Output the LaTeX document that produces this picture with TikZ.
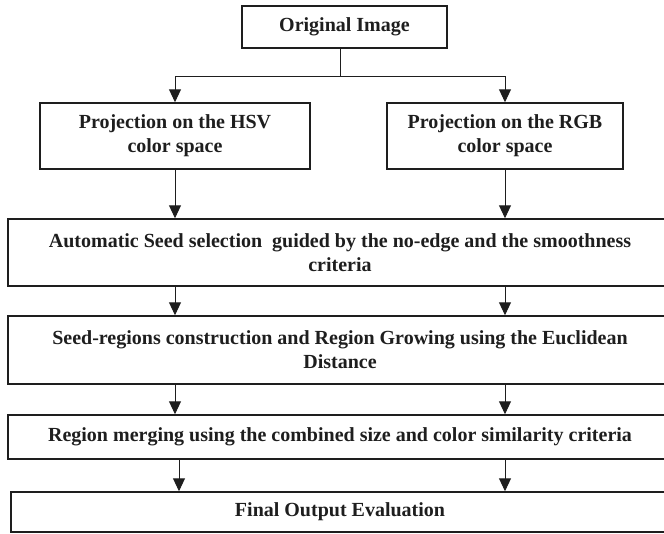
\documentclass[tikz,border=0pt]{standalone}
\usepackage{fontspec}
\setmainfont{Liberation Serif}
\usetikzlibrary{arrows.meta}
\definecolor{ink}{HTML}{1E1E1E}
\begin{document}
\begin{tikzpicture}[x=1pt,y=-1pt,
  box/.style={draw=ink,line width=1.5pt,inner sep=0pt,align=center,text=ink,
    font=\fontsize{20}{24}\selectfont\bfseries},
  arr/.style={draw=ink,line width=1pt,-{Triangle[length=13pt,width=12pt]}},
  ln/.style={draw=ink,line width=1pt}]
\useasboundingbox (0,0) rectangle (664,533);
\clip (0,0) rectangle (664,533);
\node[box,minimum width=205pt,minimum height=42pt] (orig) at (344.5,27) {Original Image};
\node[box,minimum width=270pt,minimum height=66pt] (hsv) at (175,136) {Projection on the HSV\\color space};
\node[box,minimum width=236pt,minimum height=66pt] (rgb) at (505,136) {Projection on the RGB\\color space};
\node[box,minimum width=664pt,minimum height=67pt] (auto) at (340,252.5) {Automatic Seed selection\ \ guided by the no-edge and the smoothness\\criteria};
\node[box,minimum width=664pt,minimum height=68pt] (seed) at (340,350) {Seed-regions construction and Region Growing using the Euclidean\\Distance};
\node[box,minimum width=664pt,minimum height=44pt] (merge) at (340,437) {Region merging using the combined size and color similarity criteria};
\node[box,minimum width=658pt,minimum height=40pt] (final) at (340,512) {Final Output Evaluation};
\coordinate (top) at ([xshift=-4.5pt]orig.south);
\coordinate (j) at (340,76);
\draw[ln] (top) -- (j);
\draw[arr] (j) -| (hsv.north);
\draw[arr] (j) -| (rgb.north);
\draw[arr] (hsv.south) -- (hsv.south |- auto.north);
\draw[arr] (rgb.south) -- (rgb.south |- auto.north);
\draw[arr] (auto.south -| hsv.south) -- (seed.north -| hsv.south);
\draw[arr] (auto.south -| rgb.south) -- (seed.north -| rgb.south);
\draw[arr] (seed.south -| hsv.south) -- (merge.north -| hsv.south);
\draw[arr] (seed.south -| rgb.south) -- (merge.north -| rgb.south);
\coordinate (fl) at ([xshift=4pt]hsv.south);
\draw[arr] (merge.south -| fl) -- (final.north -| fl);
\draw[arr] (merge.south -| rgb.south) -- (final.north -| rgb.south);
\end{tikzpicture}
\end{document}
